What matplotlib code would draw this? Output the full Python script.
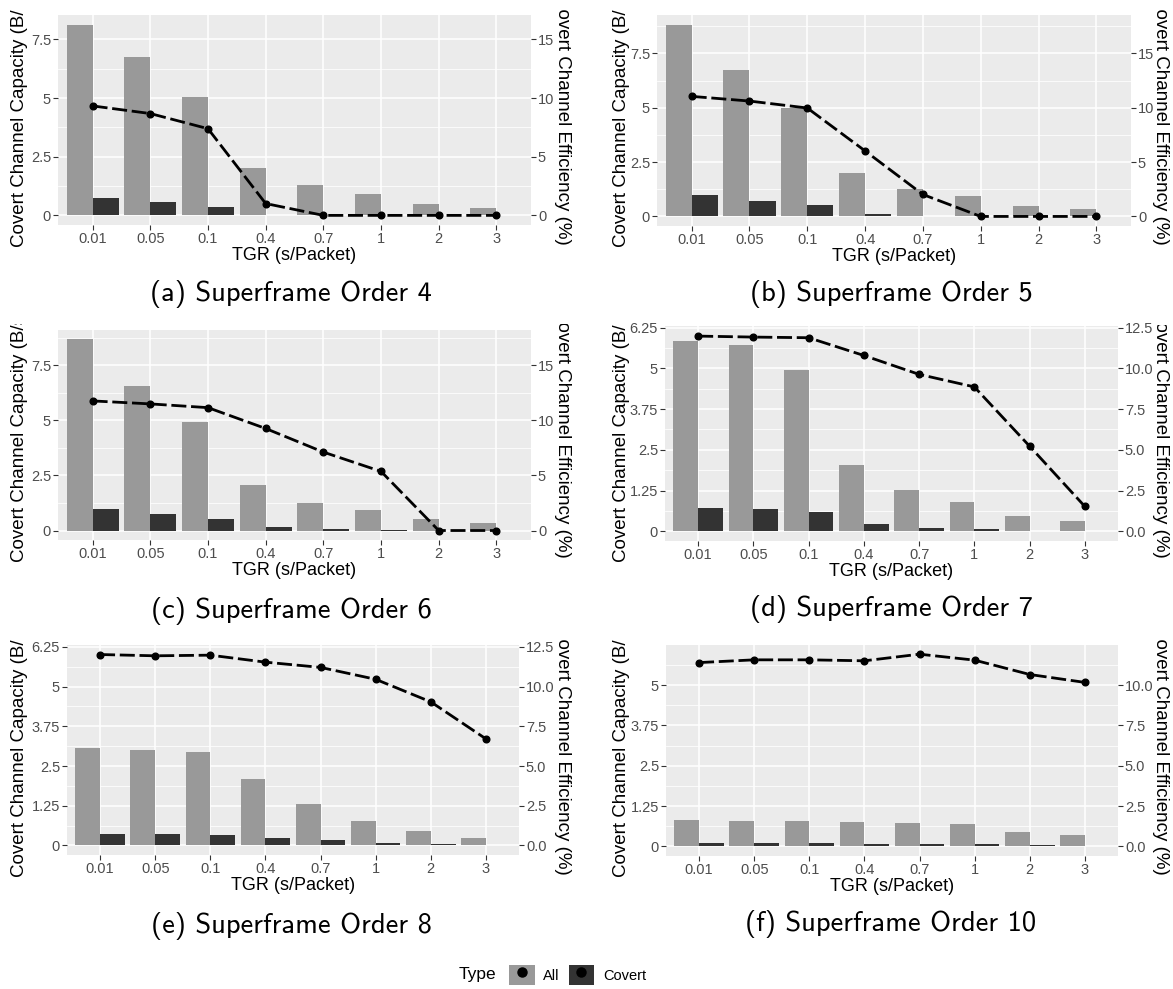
import matplotlib
matplotlib.use("Agg")
import matplotlib.pyplot as plt
from matplotlib.patches import Patch
from matplotlib.lines import Line2D
from matplotlib.legend_handler import HandlerTuple
from matplotlib.transforms import Bbox, TransformedBbox
from matplotlib.ticker import FixedLocator, AutoMinorLocator
import numpy as np

plt.rcParams['font.family'] = ['Liberation Sans', 'DejaVu Sans']

# ---- data ----
tgr = ["0.01", "0.05", "0.1", "0.4", "0.7", "1", "2", "3"]

captions = ["(a) Superframe Order 4", "(b) Superframe Order 5",
            "(c) Superframe Order 6", "(d) Superframe Order 7",
            "(e) Superframe Order 8", "(f) Superframe Order 10"]

all_so4 = [8.13, 6.74, 5.06, 2.02, 1.28, 0.92, 0.49, 0.32]
covert_so4 = [0.75, 0.59, 0.37, 0.03, 0.0, 0.0, 0.0, 0.0]
eff_so4 = [9.33, 8.68, 7.39, 1.01, 0.0, 0.0, 0.0, 0.0]

all_so5 = [8.83, 6.72, 5.01, 2.02, 1.26, 0.95, 0.47, 0.34]
covert_so5 = [0.98, 0.72, 0.51, 0.12, 0.03, 0.0, 0.0, 0.0]
eff_so5 = [11.05, 10.62, 9.98, 6.03, 2.02, 0.0, 0.0, 0.0]

all_so6 = [8.66, 6.54, 4.92, 2.05, 1.25, 0.92, 0.50, 0.32]
covert_so6 = [0.99, 0.74, 0.54, 0.18, 0.08, 0.03, 0.0, 0.0]
eff_so6 = [11.75, 11.48, 11.14, 9.25, 7.11, 5.36, 0.0, 0.0]

all_so7 = [5.83, 5.73, 4.95, 2.04, 1.26, 0.90, 0.48, 0.32]
covert_so7 = [0.70, 0.68, 0.59, 0.22, 0.10, 0.07, 0.02, 0.01]
eff_so7 = [11.98, 11.92, 11.88, 10.79, 9.63, 8.86, 5.22, 1.52]

all_so8 = [3.07, 3.00, 2.95, 2.09, 1.30, 0.77, 0.46, 0.23]
covert_so8 = [0.36, 0.36, 0.34, 0.24, 0.16, 0.08, 0.04, 0.01]
eff_so8 = [12.02, 11.94, 11.98, 11.54, 11.21, 10.46, 9.04, 6.71]

all_so10 = [0.81, 0.79, 0.79, 0.75, 0.71, 0.70, 0.46, 0.34]
covert_so10 = [0.10, 0.10, 0.10, 0.08, 0.08, 0.08, 0.04, 0.01]
eff_so10 = [11.40, 11.57, 11.57, 11.51, 11.92, 11.55, 10.66, 10.17]

left_ticks_big = [0, 2.5, 5, 7.5]
left_labels_big = ["0", "2.5", "5", "7.5"]
right_ticks_big = [0, 5, 10, 15]
right_labels_big = ["0", "5", "10", "15"]
left_ticks_small = [0, 1.25, 2.5, 3.75, 5, 6.25]
left_labels_small = ["0", "1.25", "2.5", "3.75", "5", "6.25"]
right_ticks_small = [0, 2.5, 5, 7.5, 10, 12.5]
right_labels_small = ["0.0", "2.5", "5.0", "7.5", "10.0", "12.5"]

series = [(all_so4, covert_so4, eff_so4), (all_so5, covert_so5, eff_so5),
          (all_so6, covert_so6, eff_so6), (all_so7, covert_so7, eff_so7),
          (all_so8, covert_so8, eff_so8), (all_so10, covert_so10, eff_so10)]

# ---- layout (pixels of the 1173x989 canvas) ----
W, H = 1173, 989
boxes = [(58, 15, 531, 225), (657, 15, 1131, 226),
         (58, 330, 531, 540), (665, 326, 1118, 541),
         (67, 645, 519, 855), (666, 645, 1118, 856)]
ylims = [(-0.41, 8.54), (-0.44, 9.27), (-0.43, 9.09),
         (-0.30, 6.30), (-0.30, 6.31), (-0.298, 6.245)]
ylab_pos = [(20, 247), (621, 247), (20, 562), (621, 562), (20, 877), (621, 877)]
rlab_pos = [(563, 245), (1161, 245), (562, 558), (1160, 558), (562, 875), (1160, 875)]
clips = [(0, 10, 583), (583, 10, 1173), (0, 324, 583), (583, 325, 1173),
         (0, 640, 583), (583, 640, 1173)]
cap_pos = [(291, 294), (891, 294), (291, 611), (891, 609), (291, 926), (891, 924)]

ALL_C = '#999999'
COV_C = '#333333'
BG = '#EBEBEB'

fig = plt.figure(figsize=(W / 100, H / 100), dpi=100)

x = np.arange(len(tgr))
bw = 0.45

for i in range(6):
    x0, y0, x1, y1 = boxes[i]
    ax = fig.add_axes([x0 / W, 1 - y1 / H, (x1 - x0) / W, (y1 - y0) / H])
    ax.set_facecolor(BG)
    for s in ax.spines.values():
        s.set_visible(False)
    allv, covv, effv = series[i]
    ax.bar(x - bw / 2, allv, width=bw, color=ALL_C, zorder=2)
    ax.bar(x + bw / 2, covv, width=bw, color=COV_C, zorder=2)
    ax.set_xlim(-0.6, len(tgr) - 0.4)
    ax.set_ylim(*ylims[i])
    if i < 3:
        lt, ll, rt, rl = left_ticks_big, left_labels_big, right_ticks_big, right_labels_big
    else:
        lt, ll, rt, rl = left_ticks_small, left_labels_small, right_ticks_small, right_labels_small
    ax.yaxis.set_major_locator(FixedLocator(lt))
    ax.set_yticklabels(ll)
    ax.yaxis.set_minor_locator(AutoMinorLocator(2))
    ax.set_xticks(x)
    ax.set_xticklabels(tgr)
    ax.grid(True, which='major', color='white', lw=1.1, zorder=0)
    ax.grid(True, which='minor', axis='y', color='white', lw=0.55, zorder=0)
    ax.set_axisbelow(True)
    ax.tick_params(which='major', length=3.5, width=0.8, color='#333333',
                   labelsize=10.5, labelcolor='#4D4D4D', pad=1.5)
    ax.tick_params(which='minor', length=0)
    ax.set_xlabel("TGR (s/Packet)", fontsize=13, labelpad=0.5)

    ax2 = ax.twinx()
    for s in ax2.spines.values():
        s.set_visible(False)
    ax2.set_ylim(ylims[i][0] * 2, ylims[i][1] * 2)
    ax2.yaxis.set_major_locator(FixedLocator(rt))
    ax2.set_yticklabels(rl)
    ax2.tick_params(length=3.5, width=0.8, color='#333333',
                    labelsize=10.5, labelcolor='#4D4D4D', pad=1.5)
    ax2.plot(x, effv, color='black', lw=2.0, ls=(0, (5.4, 1.7)),
             marker='o', ms=4.8)

    # axis titles are longer than each sub-image, so they get cut at its top
    cx0, cy0, cx1 = clips[i]
    cbox = TransformedBbox(Bbox.from_extents(cx0 / W, 0, cx1 / W, 1 - cy0 / H),
                           fig.transFigure)
    lx, ly = ylab_pos[i]
    t = fig.text(lx / W, 1 - ly / H, "Covert Channel Capacity (B/s)",
                 rotation=90, ha='center', va='bottom', fontsize=13.5)
    t.set_clip_box(cbox)
    t.set_clip_on(True)
    rx, ry = rlab_pos[i]
    t = fig.text(rx / W, 1 - ry / H, "Covert Channel Efficiency (%)",
                 rotation=270, ha='center', va='bottom', fontsize=13.5)
    t.set_clip_box(cbox)
    t.set_clip_on(True)

    px, py = cap_pos[i]
    fig.text(px / W, 1 - py / H, captions[i], family='cmss10', fontsize=20.5,
             ha='center', va='center')

# legend
dot = Line2D([], [], color='black', marker='o', ls='none', ms=6.5)
h_all = (Patch(facecolor=ALL_C, edgecolor='none'), dot)
h_cov = (Patch(facecolor=COV_C, edgecolor='none'), dot)
fig.text(477 / W, 1 - 975 / H, "Type", fontsize=12.5, ha='center', va='center')
fig.legend([h_all, h_cov], ["All", "Covert"], ncol=2, frameon=False,
           loc='center left', bbox_to_anchor=(509 / W, 1 - 975 / H),
           borderpad=0, borderaxespad=0, fontsize=10.5, numpoints=1,
           handlelength=1.75, handleheight=1.75, handletextpad=0.6,
           columnspacing=0.6,
           handler_map={tuple: HandlerTuple(ndivide=1)})

fig.savefig("out.png", dpi=100)
